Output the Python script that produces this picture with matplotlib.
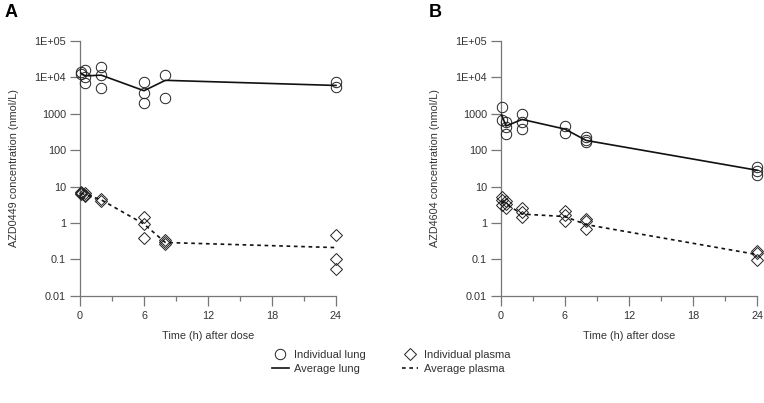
import matplotlib.pyplot as plt
import numpy as np

plt.rcParams['font.family'] = ['Liberation Sans', 'DejaVu Sans']

# sampling times (h) for each individual observation
t_ind = [0.08, 0.5, 2, 6, 8, 24]
t_avg = [0.08, 0.5, 2, 6, 8, 24]

# Panel A: AZD0449
a_lung = [[14000, 12500], [16000, 10000, 7000], [19000, 11500, 5200],
          [7600, 3700, 2000], [11800, 2700], [7600, 5400]]
a_lung_avg = [13000, 11000, 11500, 4300, 8300, 6000]
a_plasma = [[6.9, 6.5, 6.2], [6.7, 6.0, 5.6], [4.6, 4.0],
            [1.5, 0.93, 0.38], [0.35, 0.30, 0.27], [0.47, 0.10, 0.053]]
a_plasma_avg = [6.5, 6.0, 4.3, 0.93, 0.29, 0.21]

# Panel B: AZD4604
b_lung = [[1550, 660], [600, 430, 270], [970, 600, 390],
          [460, 290], [230, 195, 165], [34, 27, 21]]
b_lung_avg = [950, 460, 700, 380, 185, 28]
b_plasma = [[5.0, 4.2, 3.1], [4.0, 3.4, 2.5], [2.5, 2.0, 1.5],
            [2.1, 1.7, 1.1], [1.25, 1.1, 0.67], [0.17, 0.145, 0.095]]
b_plasma_avg = [4.0, 3.3, 1.75, 1.5, 0.9, 0.135]

yticks = [0.01, 0.1, 1, 10, 100, 1000, 1e4, 1e5]
ylabels = ['0.01', '0.1', '1', '10', '100', '1000', '1E+04', '1E+05']

gray = '#777777'
txt = '#333333'

fig = plt.figure(figsize=(7.64, 4.03), dpi=100)
axA = fig.add_axes([80/764, 1-295.7/403, 256/764, 254.7/403])
axB = fig.add_axes([500.7/764, 1-295.7/403, 256.6/764, 254.7/403])


def panel(ax, lung, lung_avg, plasma, plasma_avg, name):
    for t, vals in zip(t_ind, lung):
        ax.plot([t]*len(vals), vals, 'o', ms=7.5, mfc='none', mec='#222222',
                mew=0.7, clip_on=False, zorder=3)
    for t, vals in zip(t_ind, plasma):
        ax.plot([t]*len(vals), vals, 'D', ms=6, mfc='none', mec='#222222',
                mew=0.7, clip_on=False, zorder=3)
    ax.plot(t_avg, lung_avg, '-', color='#111111', lw=1.2, clip_on=False, zorder=4)
    ax.plot(t_avg, plasma_avg, '--', color='#111111', lw=1.2, dashes=(2.2, 2.2),
            clip_on=False, zorder=4)
    ax.set_yscale('log')
    ax.set_ylim(0.01, 1e5)
    ax.set_xlim(0, 24)
    ax.set_yticks(yticks)
    ax.set_yticklabels(ylabels)
    ax.yaxis.set_minor_locator(plt.NullLocator())
    ax.set_xticks([0, 6, 12, 18, 24])
    ax.set_xticks([3, 9, 15, 21], minor=True)
    for s in ['top', 'right']:
        ax.spines[s].set_visible(False)
    for s in ['left', 'bottom']:
        ax.spines[s].set_color(gray)
        ax.spines[s].set_linewidth(0.9)
    ax.tick_params(axis='y', which='major', length=7, width=0.9, color=gray,
                   labelsize=7.8, labelcolor=txt, pad=3)
    ax.tick_params(axis='x', which='major', length=7, width=0.9, color=gray,
                   labelsize=7.8, labelcolor=txt, pad=4)
    ax.tick_params(axis='x', which='minor', length=3.5, width=0.9, color=gray)
    ax.set_xlabel('Time (h) after dose', fontsize=7.8, color=txt, labelpad=7)
    ax.set_ylabel(name + ' concentration (nmol/L)', fontsize=7.8, color=txt,
                  labelpad=11)


panel(axA, a_lung, a_lung_avg, a_plasma, a_plasma_avg, 'AZD0449')
panel(axB, b_lung, b_lung_avg, b_plasma, b_plasma_avg, 'AZD4604')

fig.text(0.006, 0.99, 'A', fontsize=13, fontweight='bold', va='top')
fig.text(0.561, 0.99, 'B', fontsize=13, fontweight='bold', va='top')

h1, = plt.plot([], [], 'o', ms=7.5, mfc='none', mec='#222222', mew=0.7)
h2, = plt.plot([], [], '-', color='#111111', lw=1.2)
h3, = plt.plot([], [], 'D', ms=6, mfc='none', mec='#222222', mew=0.7)
h4, = plt.plot([], [], '--', color='#111111', lw=1.2, dashes=(2.2, 2.2))
fig.legend([h1, h2, h3, h4],
           ['Individual lung', 'Average lung', 'Individual plasma', 'Average plasma'],
           ncol=2, loc='center', bbox_to_anchor=(0.512, 0.102), frameon=False,
           fontsize=8, handlelength=1.5, handletextpad=0.5, columnspacing=3.2,
           labelspacing=0.3, labelcolor=txt)

fig.savefig('out.png', dpi=100)
